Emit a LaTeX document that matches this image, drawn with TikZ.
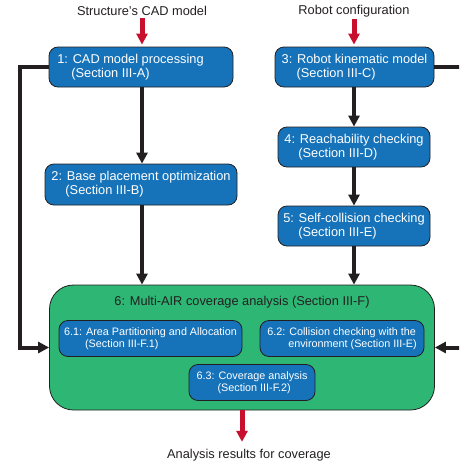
\documentclass[tikz,border=0pt]{standalone}
\usepackage{fontspec}
\setmainfont{Liberation Sans}
\usetikzlibrary{arrows.meta,positioning,calc}
\definecolor{CovInk}{HTML}{231F20}
\definecolor{CovBlue}{HTML}{1673BA}
\definecolor{CovGreen}{HTML}{2DB674}
\definecolor{CovRed}{HTML}{C8102E}

\begin{document}
\begin{tikzpicture}[x=1pt,y=-1pt,
    stage/.style={draw=CovInk,fill=CovBlue,text=white,rounded corners=9pt,line width=0.8pt,align=left,inner sep=0pt,minimum height=40pt,font=\fontsize{12.8}{14}\selectfont},
    substage/.style={draw=CovInk,fill=CovBlue,text=white,rounded corners=9pt,line width=0.8pt,align=left,inner sep=0pt,minimum height=36pt,font=\fontsize{10.8}{12}\selectfont},
    plain/.style={text=CovInk,inner sep=0pt,font=\fontsize{12.8}{14}\selectfont},
    flow/.style={-{Triangle[length=11pt,width=11pt]},line width=4pt,CovInk},
    inout/.style={-{Triangle[length=11pt,width=11pt]},line width=5pt,CovRed}]
      \useasboundingbox (0,0) rectangle (459,466);
      \clip (0,0) rectangle (459,466);
      % inputs and output
      \node[plain] (cadin) at (142,11) {Structure's CAD model};
      \node[plain] (robin) at (354,11) {Robot configuration};
      \node[plain] (result) at (249,455) {Analysis results for coverage};
      % left column
      \node[stage,minimum width=184pt] (cad) at (141,67) {1: CAD model processing\hspace*{21pt}\\\hspace*{14pt}(Section III-A)};
      \node[stage,minimum width=192pt,minimum height=41pt] (base) at (141,184.5) {2: Base placement optimization\\\hspace*{14pt}(Section III-B)};
      % right column
      \node[stage,minimum width=159pt] (kin) at (354.5,67) {3: Robot kinematic model\\\hspace*{15pt}(Section III-C)};
      \node[stage,minimum width=152pt] (reach) at (354,147) {4: Reachability checking\\\hspace*{14pt}(Section III-D)};
      \node[stage,minimum width=152pt] (self) at (354,226) {5: Self-collision checking\\\hspace*{15pt}(Section III-E)};
      % coverage block
      \node[draw=CovInk,fill=CovGreen,rounded corners=24pt,line width=0.8pt,inner sep=0pt,minimum width=385pt,minimum height=125pt] (cov) at (242,347.5) {};
      \node[plain] (covtitle) at (242,302) {6: Multi-AIR coverage analysis (Section III-F)};
      \node[substage,minimum width=183pt] (part) at (150.5,338.5) {6.1: Area Partitioning and Allocation\\\hspace*{21pt}(Section III-F.1)};
      \node[substage,minimum width=164pt] (envcol) at (342,338.5) {6.2: Collision checking with the\\\hspace*{21pt}environment (Section III-E)};
      \node[substage,minimum width=126pt] (covan) at (252,382.5) {6.3: Coverage analysis\\\hspace*{21pt}(Section III-F.2)};
      % connectors
      \draw[inout,shorten <=2pt,shorten >=2pt] (cadin) -- (cadin |- cad.north);
      \draw[inout,shorten <=2pt,shorten >=2pt] (robin) -- (robin |- kin.north);
      \draw[flow] (cadin |- cad.south) -- (cadin |- base.north);
      \draw[flow] (cadin |- base.south) -- (cadin |- cov.north);
      \draw[flow] (robin |- kin.south) -- (robin |- reach.north);
      \draw[flow] (robin |- reach.south) -- (robin |- self.north);
      \draw[flow] (robin |- self.south) -- (robin |- cov.north);
      \draw[flow] (cad.west) -- ++(-29pt,0) |- (cov.west);
      \draw[flow] (kin.east) -- ++(30pt,0) |- (cov.east);
      \draw[inout,shorten >=7pt] (cov.south) -- (cov.south |- result.north);
    \end{tikzpicture}
\end{document}
